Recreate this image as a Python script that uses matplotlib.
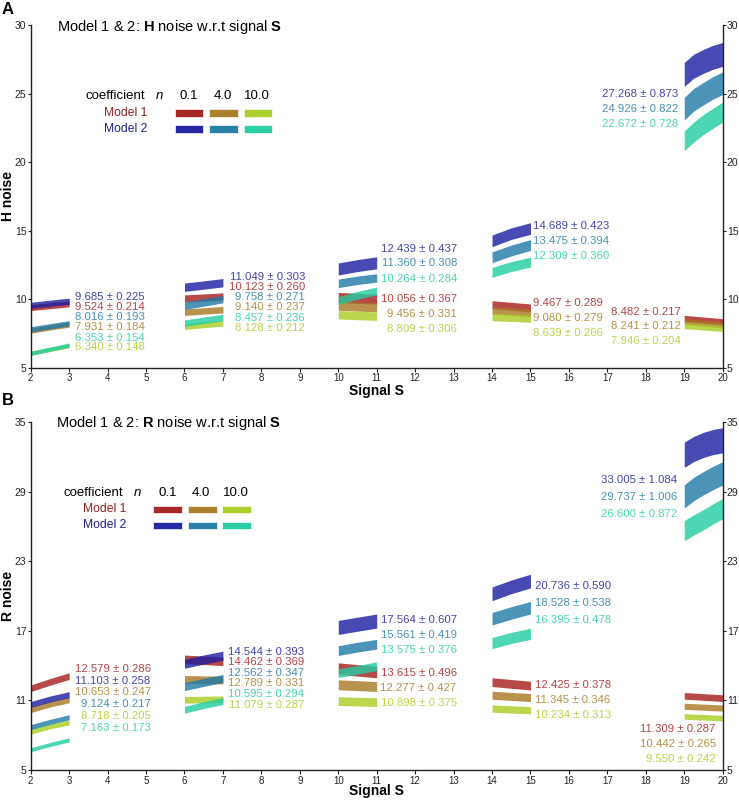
import numpy as np
import matplotlib
matplotlib.use("Agg")
import matplotlib.pyplot as plt
from matplotlib.patches import Rectangle

plt.rcParams['font.family'] = ['Liberation Sans', 'DejaVu Sans']
plt.rcParams['mathtext.fontset'] = 'custom'
plt.rcParams['mathtext.rm'] = 'Liberation Sans'
plt.rcParams['mathtext.bf'] = 'Liberation Sans:bold'
plt.rcParams['mathtext.it'] = 'Liberation Sans:italic'

# ---------------- data ----------------
series_keys = ["m1_01", "m1_4", "m1_10", "m2_01", "m2_4", "m2_10"]
coef_labels = ["0.1", "4.0", "10.0"]
model_labels = ["Model 1", "Model 2"]
x_ticks = list(range(2, 21))
yticks_H = [5, 10, 15, 20, 25, 30]
yticks_R = [5, 11, 17, 23, 29, 35]

# signal positions of each band group
S_points = [[2, 2.5, 3], [6, 6.5, 7], [10, 10.5, 11], [14, 14.5, 15],
            [19, 19.25, 19.5, 19.75, 20]]

# Panel A (H noise): band centre lines
H_centers = {
    "m1_01": [[9.38, 9.52, 9.65], [10.05, 10.12, 10.20], [10.12, 10.06, 10.00], [9.60, 9.48, 9.36], [8.60, 8.54, 8.48, 8.42, 8.36]],
    "m1_4":  [[7.70, 7.93, 8.14], [9.05, 9.14, 9.23], [9.52, 9.46, 9.40], [9.18, 9.08, 8.98], [8.36, 8.30, 8.24, 8.18, 8.12]],
    "m1_10": [[6.05, 6.33, 6.60], [8.00, 8.13, 8.25], [8.86, 8.81, 8.76], [8.70, 8.64, 8.58], [8.05, 8.00, 7.95, 7.90, 7.85]],
    "m2_01": [[9.55, 9.70, 9.85], [10.87, 11.03, 11.20], [12.20, 12.45, 12.65], [14.25, 14.78, 15.15], [26.40, 27.00, 27.35, 27.65, 27.85]],
    "m2_4":  [[7.80, 8.02, 8.24], [9.52, 9.76, 10.00], [11.15, 11.38, 11.55], [13.05, 13.55, 13.95], [23.90, 24.55, 25.00, 25.42, 25.75]],
    "m2_10": [[6.05, 6.35, 6.65], [8.25, 8.46, 8.66], [9.90, 10.28, 10.60], [11.95, 12.38, 12.70], [21.55, 22.20, 22.75, 23.20, 23.65]],
}
H_mean = {
    "m1_01": [9.524, 10.123, 10.056, 9.467, 8.482],
    "m1_4":  [7.931, 9.140, 9.456, 9.080, 8.241],
    "m1_10": [6.340, 8.128, 8.809, 8.639, 7.946],
    "m2_01": [9.685, 11.049, 12.439, 14.689, 27.268],
    "m2_4":  [8.016, 9.758, 11.360, 13.475, 24.926],
    "m2_10": [6.353, 8.457, 10.264, 12.309, 22.672],
}
H_sd = {
    "m1_01": [0.214, 0.260, 0.367, 0.289, 0.217],
    "m1_4":  [0.184, 0.237, 0.331, 0.279, 0.212],
    "m1_10": [0.148, 0.212, 0.306, 0.266, 0.204],
    "m2_01": [0.225, 0.303, 0.437, 0.423, 0.873],
    "m2_4":  [0.193, 0.271, 0.308, 0.394, 0.822],
    "m2_10": [0.154, 0.236, 0.284, 0.360, 0.728],
}

# Panel B (R noise)
R_centers = {
    "m1_01": [[12.05, 12.60, 13.10], [14.55, 14.46, 14.38], [13.75, 13.60, 13.45], [12.58, 12.43, 12.28], [11.40, 11.35, 11.30, 11.25, 11.20]],
    "m1_4":  [[10.20, 10.68, 11.05], [12.82, 12.79, 12.76], [12.35, 12.28, 12.20], [11.45, 11.35, 11.25], [10.50, 10.46, 10.42, 10.38, 10.35]],
    "m1_10": [[8.30, 8.75, 9.10], [11.05, 11.08, 11.10], [10.95, 10.90, 10.85], [10.30, 10.23, 10.15], [9.62, 9.58, 9.55, 9.51, 9.48]],
    "m2_01": [[10.65, 11.12, 11.50], [14.17, 14.53, 14.86], [17.30, 17.58, 17.85], [20.20, 20.80, 21.30], [32.20, 32.70, 33.05, 33.30, 33.45]],
    "m2_4":  [[8.70, 9.15, 9.55], [12.20, 12.56, 12.90], [15.30, 15.60, 15.85], [18.05, 18.55, 19.00], [28.60, 29.25, 29.75, 30.20, 30.60]],
    "m2_10": [[6.75, 7.20, 7.60], [10.20, 10.60, 10.95], [13.35, 13.65, 13.95], [15.95, 16.40, 16.75], [25.65, 26.15, 26.60, 27.10, 27.55]],
}
R_mean = {
    "m1_01": [12.579, 14.462, 13.615, 12.425, 11.309],
    "m1_4":  [10.653, 12.789, 12.277, 11.345, 10.442],
    "m1_10": [8.718, 11.079, 10.898, 10.234, 9.550],
    "m2_01": [11.103, 14.544, 17.564, 20.736, 33.005],
    "m2_4":  [9.124, 12.562, 15.561, 18.528, 29.737],
    "m2_10": [7.163, 10.595, 13.575, 16.395, 26.600],
}
R_sd = {
    "m1_01": [0.286, 0.369, 0.496, 0.378, 0.287],
    "m1_4":  [0.247, 0.331, 0.427, 0.346, 0.265],
    "m1_10": [0.205, 0.287, 0.375, 0.313, 0.242],
    "m2_01": [0.258, 0.393, 0.607, 0.590, 1.084],
    "m2_4":  [0.217, 0.347, 0.419, 0.538, 1.006],
    "m2_10": [0.173, 0.294, 0.376, 0.478, 0.872],
}

colors = {
    "m1_01": "#A51C1C", "m1_4": "#A87820", "m1_10": "#A8CC20",
    "m2_01": "#1C1CA0", "m2_4": "#1E78A5", "m2_10": "#20CCA0",
}

# label layout: (group, x, ha, [keys], [y positions])
H_label_layout = [
    (0, 4.97, "right", ["m2_01", "m1_01", "m2_4", "m1_4", "m2_10", "m1_10"], [10.18, 9.45, 8.68, 7.95, 7.19, 6.49]),
    (1, 9.14, "right", ["m2_01", "m1_01", "m2_4", "m1_4", "m2_10", "m1_10"], [11.64, 10.91, 10.14, 9.41, 8.65, 7.92]),
    (2, 13.09, "right", ["m2_01", "m2_4", "m2_10", "m1_01", "m1_4", "m1_10"], [13.64, 12.62, 11.50, 9.99, 8.90, 7.82]),
    (3, 15.07, "left", ["m2_01", "m2_4", "m2_10", "m1_01", "m1_4", "m1_10"], [15.34, 14.27, 13.18, 9.74, 8.65, 7.55]),
    (4, 18.84, "right", ["m2_01", "m2_4", "m2_10"], [24.96, 23.86, 22.79]),
    (4, 18.91, "right", ["m1_01", "m1_4", "m1_10"], [9.09, 8.04, 6.97]),
]
R_label_layout = [
    (0, 5.12, "right", ["m1_01", "m2_01", "m1_4", "m2_4", "m1_10", "m2_10"], [13.69, 12.68, 11.70, 10.67, 9.66, 8.65]),
    (1, 9.11, "right", ["m2_01", "m1_01", "m2_4", "m1_4", "m2_10", "m1_10"], [15.21, 14.29, 13.40, 12.48, 11.56, 10.61]),
    (2, 13.08, "right", ["m2_01", "m2_4", "m2_10", "m1_01", "m1_4", "m1_10"], [17.94, 16.65, 15.35, 13.34, 12.05, 10.75]),
    (3, 15.12, "left", ["m2_01", "m2_4", "m2_10", "m1_01", "m1_4", "m1_10"], [20.90, 19.43, 17.94, 12.33, 11.04, 9.75]),
    (4, 18.82, "right", ["m2_01", "m2_4", "m2_10"], [30.02, 28.53, 27.06]),
    (4, 19.82, "right", ["m1_01", "m1_4", "m1_10"], [8.51, 7.22, 5.92]),
]

W, H = 739, 800
fig = plt.figure(figsize=(W / 100, H / 100), dpi=100)


def fx(px):
    return px / W


def fy(py):
    return 1 - py / H


axA = fig.add_axes([fx(30.7), fy(367.7), fx(692), 342.7 / H])
axB = fig.add_axes([fx(30.7), fy(770), fx(692), 347.7 / H])


def draw_panel(ax, centers, means, sds, layout, ylim, yticks, ylab):
    for key in series_keys:
        for g, S in enumerate(S_points):
            c = np.array(centers[key][g])
            sd = sds[key][g]
            ax.fill_between(S, c - sd, c + sd, color=colors[key], alpha=0.8, lw=0)
    for g, x, ha, keys, ys in layout:
        for key, y in zip(keys, ys):
            ax.text(x, y, f"{means[key][g]:.3f} \u00b1 {sds[key][g]:.3f}", ha=ha, va="center",
                    fontsize=8.2, color=colors[key], alpha=0.82)
    ax.set_xlim(2, 20)
    ax.set_ylim(*ylim)
    ax.set_xticks(x_ticks)
    ax.set_yticks(yticks)
    ax.spines['top'].set_visible(False)
    for s in ['left', 'right', 'bottom']:
        ax.spines[s].set_linewidth(1.0)
        ax.spines[s].set_color('#222222')
    ax.tick_params(axis='x', direction='out', length=3, width=0.8, color='#222222',
                   labelsize=7, pad=1.0, labelcolor='#222222')
    ax.tick_params(axis='y', direction='out', length=2.5, width=0.8, color='#222222',
                   labelsize=7.5, pad=0.5, labelcolor='#222222',
                   right=True, labelright=True)
    ax.set_xlabel("Signal S", fontsize=10, fontweight='bold')
    ax.set_ylabel(ylab, fontsize=10, fontweight='bold')
    ax.yaxis.set_label_coords(-0.0225, 0.5)


draw_panel(axA, H_centers, H_mean, H_sd, H_label_layout, (5, 30), yticks_H, "H noise")
draw_panel(axB, R_centers, R_mean, R_sd, R_label_layout, (5, 35), yticks_R, "R noise")
axA.xaxis.set_label_coords(0.4997, -0.047)
axB.xaxis.set_label_coords(0.4997, -0.041)

# titles
fig.text(fx(57), fy(26.7), r"Model 1 & 2: $\mathbf{H}$ noise w.r.t signal $\mathbf{S}$",
         fontsize=10.5, ha="left", va="center")
fig.text(fx(56), fy(423.3), r"Model 1 & 2: $\mathbf{R}$ noise w.r.t signal $\mathbf{S}$",
         fontsize=10.5, ha="left", va="center")
# panel letters
fig.text(fx(8), fy(10), "A", fontsize=12, fontweight='bold', ha="center", va="center")
fig.text(fx(8.3), fy(400.7), "B", fontsize=12, fontweight='bold', ha="center", va="center")


def legend(x_coef, y_head, x_n, x_heads, x_model_right, y_rows, sw_x, sw_w, sw_h):
    fig.text(fx(x_coef), fy(y_head), "coefficient", fontsize=9.5, ha="left", va="center")
    fig.text(fx(x_n), fy(y_head), "n", fontsize=9.5, style="italic", ha="center", va="center")
    for xh, lab in zip(x_heads, coef_labels):
        fig.text(fx(xh), fy(y_head), lab, fontsize=9.5, ha="center", va="center")
    mcols = ["#8E2222", "#22228E"]
    for r, (lab, yr) in enumerate(zip(model_labels, y_rows)):
        fig.text(fx(x_model_right), fy(yr), lab, fontsize=8.7, ha="right", va="center", color=mcols[r])
        for j in range(3):
            key = series_keys[r * 3 + j]
            fig.add_artist(Rectangle((fx(sw_x[j]), fy(yr + sw_h / 2)), sw_w / W, sw_h / H,
                                     transform=fig.transFigure, facecolor=colors[key],
                                     edgecolor='white', lw=0.5, alpha=0.95))


legend(85.7, 96, 159.3, [189, 222.7, 257], 147.3, [112.8, 128.8], [175, 209.3, 243.7], 28.3, 7.7)
legend(64, 492.7, 137.3, [167.7, 201.3, 236], 126.7, [509.5, 525.5], [153.3, 187.7, 222.3], 29, 7.6)

fig.savefig("out.png", dpi=100)
